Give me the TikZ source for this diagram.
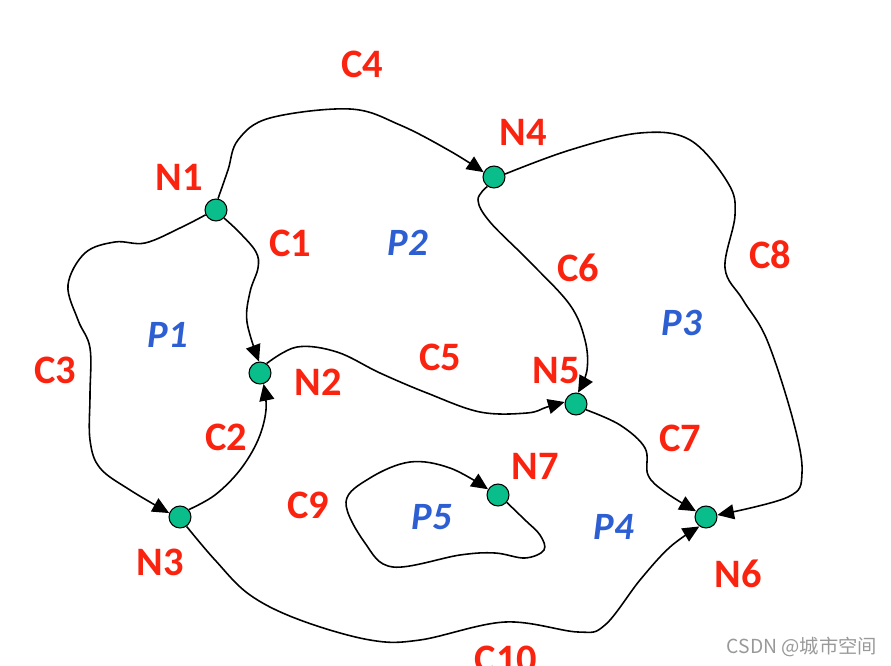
\documentclass[tikz,border=0pt]{standalone}
\usepackage{fontspec}
\setmainfont{Carlito}
\newfontfamily\cjkfont{Noto Sans CJK SC}
\usetikzlibrary{arrows.meta}
\definecolor{lblred}{RGB}{250,35,15}
\definecolor{lblblue}{RGB}{45,95,210}
\definecolor{nodegreen}{RGB}{10,190,140}

\begin{document}
\begin{tikzpicture}[
		x=0.02cm, y=-0.02cm,
		>={Triangle[length=9.5pt, width=8.5pt]},
		pt/.style={draw, circle, line width=0.6pt, fill=nodegreen, minimum size=12.5pt, inner sep=0pt},
		curve/.style={->, line width=0.9pt, smooth, tension=0.6},
		clabel/.style={text=lblred, font=\fontsize{23}{25}\selectfont\bfseries},
		plabel/.style={text=lblblue, font=\fontsize{22}{24}\selectfont\bfseries\itshape}
	]
	\clip (0,0) rectangle (891,665);
	\useasboundingbox (0,0) rectangle (891,665);

	% Nodes
	\node[pt] (N1) at (216,210) {};
	\node[pt] (N2) at (260,373) {};
	\node[pt] (N3) at (180,517) {};
	\node[pt] (N4) at (494,177) {};
	\node[pt] (N5) at (576,404) {};
	\node[pt] (N6) at (706,517) {};
	\node[pt] (N7) at (498,495) {};

	% Arrows
	\draw[curve] plot coordinates {(N1.80) (228,170) (238,140) (270,118) (350,109) (400,125) (450,151) (N4.155)};
	\draw[curve] plot coordinates {(N1.-45) (240,233) (256,252) (258,268) (250,292) (247,322) (N2.95)};
	\draw[curve] plot coordinates {(N1.205) (180,228) (145,243) (115,242) (85,253) (68,285) (78,320) (90,348) (90,395) (90,440) (100,468) (130,490) (N3.160)};
	\draw[curve] plot coordinates {(N3.40) (215,495) (240,470) (258,440) (266,410) (N2.-72)};
	\draw[curve] plot coordinates {(N2.55) (297,347) (337,352) (380,373) (427,393) (480,412) (527,413) (547,407) (N5.170)};
	\draw[curve] plot coordinates {(N4.235) (478,200) (490,222) (530,262) (570,305) (585,340) (587,370) (N5.80)};
	\draw[curve] plot coordinates {(N5.-30) (620,425) (645,448) (648,475) (665,492) (N6.150)};
	\draw[curve] plot coordinates {(N4.15) (570,150) (640,133) (690,140) (728,183) (735,215) (725,268) (743,300) (767,340) (793,420) (802,473) (788,497) (N6.10)};
	\draw[curve] plot coordinates {(N3.-55) (215,560) (250,595) (300,620) (370,640) (420,640) (505,622) (578,632) (605,625) (640,580) (670,547) (N6.235)};
	\draw[curve] plot coordinates {(N7.-40) (525,520) (540,535) (544,550) (525,558) (495,553) (460,555) (393,567) (365,543) (346,502) (370,478) (410,462) (450,468) (N7.150)};

	% Labels
	\node[clabel] (lN1) at (179,177) {N1};
	\node[clabel] (lN2) at (318,382) {N2};
	\node[clabel] (lN3) at (160,562) {N3};
	\node[clabel] (lN4) at (523,132) {N4};
	\node[clabel] (lN5) at (556,371) {N5};
	\node[clabel] (lN6) at (738,574) {N6};
	\node[clabel] (lN7) at (535,466) {N7};
	\node[clabel] (lC1) at (290,243) {C1};
	\node[clabel] (lC2) at (226,437) {C2};
	\node[clabel] (lC3) at (55,370) {C3};
	\node[clabel] (lC4) at (362,64) {C4};
	\node[clabel] (lC5) at (440,357) {C5};
	\node[clabel] (lC6) at (578,268) {C6};
	\node[clabel] (lC7) at (680,438) {C7};
	\node[clabel] (lC8) at (770,255) {C8};
	\node[clabel] (lC9) at (308,505) {C9};
	\node[clabel] (lC10) at (506,659) {C10};
	\node[plabel] (lP1) at (168,335) {P1};
	\node[plabel] (lP2) at (408,243) {P2};
	\node[plabel] (lP3) at (682,323) {P3};
	\node[plabel] (lP4) at (614,527) {P4};
	\node[plabel] (lP5) at (432,517) {P5};
	\node[text=black!40, font=\cjkfont\fontsize{11}{13}\selectfont] (mark) at (802,647) {CSDN @城市空间};
\end{tikzpicture}
\end{document}
